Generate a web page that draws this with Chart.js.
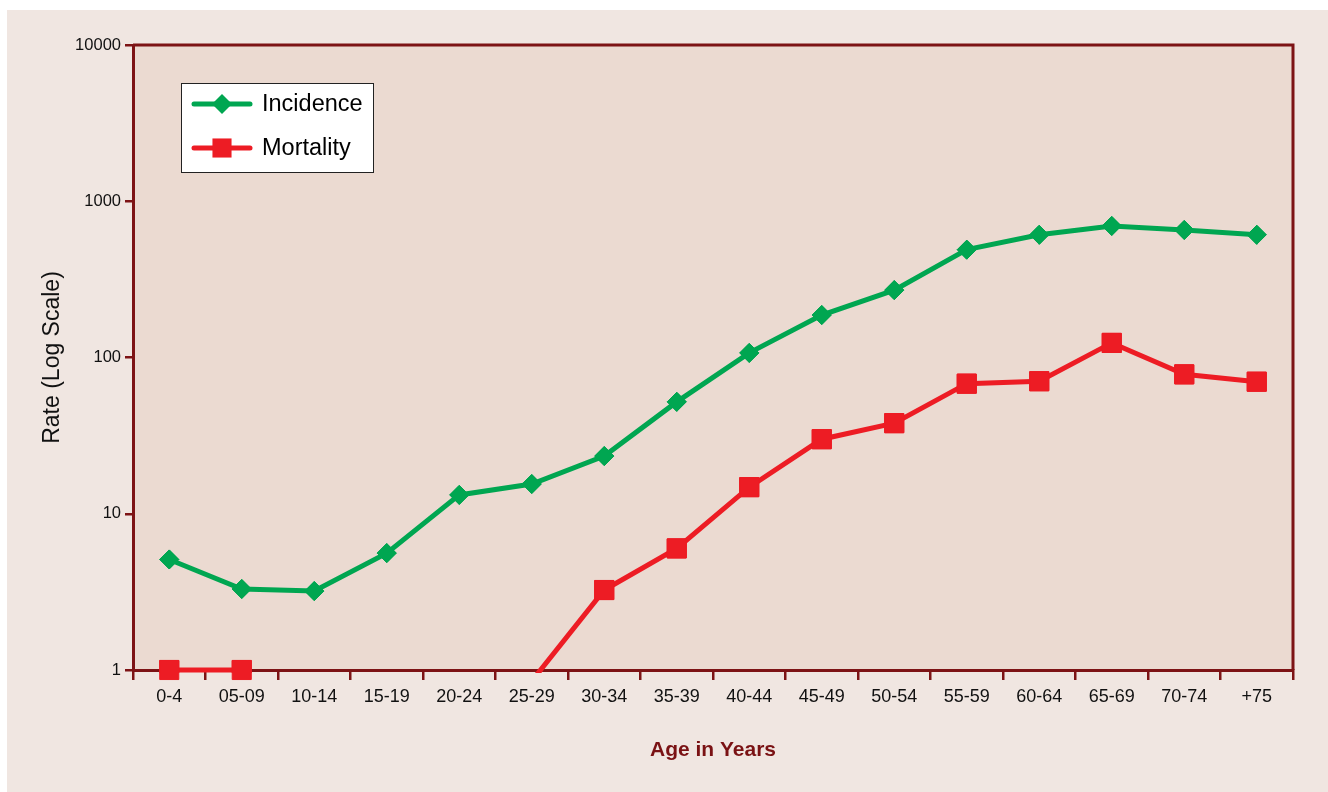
<!DOCTYPE html>
<html>
<head>
<meta charset="utf-8">
<script src="https://cdn.jsdelivr.net/npm/chart.js@4/dist/chart.umd.min.js"></script>
<style>
  html, body { margin: 0; padding: 0; background: #ffffff; }
  #panel {
    position: absolute;
    left: 7px;
    top: 10px;
    width: 1321px;
    height: 782px;
    background: #f0e6e1;
  }
</style>
</head>
<body>
<div id="panel"><canvas id="chart" width="1321" height="782"></canvas></div>
<script>
// Age groups and rates per 100,000
const ageGroups = ["0-4", "05-09", "10-14", "15-19", "20-24", "25-29", "30-34", "35-39",
  "40-44", "45-49", "50-54", "55-59", "60-64", "65-69", "70-74", "+75"];
const incidenceRates = [5.1, 3.3, 3.2, 5.6, 13.2, 15.5, 23.4, 52, 107, 187, 270, 490, 610, 695, 655, 610];
// null = not plotted; the 25-29 value sits below the axis minimum
const mortalityRates = [1, 1, null, null, null, 0.85, 3.25, 6.0, 14.8, 30, 38, 68, 70.5, 124, 78, 70];
const yTickValues = [1, 10, 100, 1000, 10000];

const AXIS_COLOR = "#7d1315";
const PLOT_BG = "#ebdad1";
const GREEN = "#00a651";
const RED = "#ed1c24";
const TICK_FONT = "'Liberation Sans', Arial, sans-serif";

// Plot background and top/right frame
const plotFrame = {
  id: "plotFrame",
  beforeDraw(chart) {
    const { ctx, chartArea: a } = chart;
    ctx.save();
    ctx.fillStyle = PLOT_BG;
    ctx.fillRect(a.left, a.top, a.right - a.left, a.bottom - a.top);
    ctx.restore();
  },
  beforeDatasetsDraw(chart) {
    const { ctx, chartArea: a } = chart;
    ctx.save();
    ctx.strokeStyle = AXIS_COLOR;
    ctx.lineWidth = 3;
    ctx.beginPath();
    ctx.moveTo(a.left, a.top);
    ctx.lineTo(a.right, a.top);
    ctx.lineTo(a.right, a.bottom);
    ctx.stroke();
    ctx.restore();
  },
  // markers sitting on the axis should not be cut in half
  afterDatasetsDraw(chart) {
    const big = { left: -1e4, top: -1e4, right: 1e4, bottom: 1e4 };
    chart.data.datasets.forEach((ds, i) => {
      const meta = chart.getDatasetMeta(i);
      meta.data.forEach((pt) => pt.draw(chart.ctx, big));
    });
  },
};

function drawMarker(ctx, style, x, y, r, color) {
  ctx.fillStyle = color;
  ctx.beginPath();
  if (style === "rectRot") {
    ctx.moveTo(x - r, y);
    ctx.lineTo(x, y - r);
    ctx.lineTo(x + r, y);
    ctx.lineTo(x, y + r);
  } else {
    const s = r * Math.SQRT1_2;
    ctx.rect(x - s, y - s, 2 * s, 2 * s);
  }
  ctx.closePath();
  ctx.fill();
}

// Legend box inside the plot, as in the original
const boxLegend = {
  id: "boxLegend",
  afterDraw(chart) {
    const { ctx } = chart;
    const bx = 174, by = 73, bw = 192, bh = 89;
    ctx.save();
    ctx.fillStyle = "#ffffff";
    ctx.fillRect(bx, by, bw, bh);
    ctx.strokeStyle = "#222222";
    ctx.lineWidth = 1;
    ctx.strokeRect(bx + 0.5, by + 0.5, bw, bh);
    const rows = [94, 138];
    chart.data.datasets.forEach((ds, i) => {
      const y = rows[i];
      ctx.strokeStyle = ds.borderColor;
      ctx.lineWidth = 5;
      ctx.lineCap = "round";
      ctx.beginPath();
      ctx.moveTo(187, y);
      ctx.lineTo(243, y);
      ctx.stroke();
      drawMarker(ctx, ds.pointStyle, 215, y, ds.legendRadius, ds.borderColor);
      ctx.fillStyle = "#000000";
      ctx.font = "23.5px 'Liberation Sans', Arial, sans-serif";
      ctx.textBaseline = "middle";
      ctx.textAlign = "left";
      ctx.fillText(ds.label, 255, y + 1);
    });
    ctx.restore();
  },
};

new Chart(document.getElementById("chart"), {
  type: "line",
  data: {
    labels: ageGroups,
    datasets: [
      {
        label: "Incidence",
        data: incidenceRates,
        borderColor: GREEN,
        backgroundColor: GREEN,
        borderWidth: 5,
        pointStyle: "rectRot",
        pointRadius: 9.5,
        pointBorderWidth: 1,
        legendRadius: 10,
        tension: 0,
      },
      {
        label: "Mortality",
        data: mortalityRates,
        borderColor: RED,
        backgroundColor: RED,
        borderWidth: 5,
        pointStyle: "rect",
        pointRadius: (c) => (c.raw !== null && c.raw < 1 ? 0 : 13.5),
        pointBorderWidth: 1,
        legendRadius: 13.5,
        tension: 0,
        spanGaps: false,
        clip: { left: 0, top: 0, right: 0, bottom: 3 },
      },
    ],
  },
  options: {
    responsive: false,
    animation: false,
    events: [],
    layout: { padding: { top: 35, right: 35, left: 0, bottom: 0 } },
    plugins: {
      legend: { display: false },
      tooltip: { enabled: false },
    },
    scales: {
      x: {
        type: "category",
        offset: true,
        grid: {
          offset: true,
          drawOnChartArea: false,
          drawTicks: true,
          tickLength: 10,
          color: AXIS_COLOR,
          lineWidth: 2.5,
        },
        border: { display: true, color: AXIS_COLOR, width: 3 },
        ticks: {
          autoSkip: false,
          maxRotation: 0,
          minRotation: 0,
          padding: 6,
          color: "#111111",
          font: { family: TICK_FONT, size: 18 },
        },
        title: {
          display: true,
          text: "Age in Years",
          color: "#7a1214",
          padding: { top: 0, bottom: 29 },
          font: { family: "'Liberation Sans', Arial, sans-serif", size: 21, weight: "bold" },
        },
        afterFit(scale) {
          scale.height = 122;
        },
      },
      y: {
        type: "logarithmic",
        min: 1,
        max: 10000,
        grid: {
          drawOnChartArea: false,
          drawTicks: true,
          tickLength: 8,
          color: AXIS_COLOR,
          lineWidth: 2.5,
        },
        border: { display: true, color: AXIS_COLOR, width: 3 },
        afterBuildTicks(scale) {
          scale.ticks = yTickValues.map((v) => ({ value: v, major: true }));
        },
        ticks: {
          padding: 4,
          color: "#111111",
          font: { family: TICK_FONT, size: 16.5 },
          callback: (v) => String(v),
        },
        title: {
          display: true,
          text: "Rate (Log Scale)",
          color: "#111111",
          padding: { top: 32, bottom: 0 },
          font: { family: "'Liberation Sans', Arial, sans-serif", size: 23 },
        },
        afterFit(scale) {
          scale.width = 126;
        },
      },
    },
  },
  plugins: [plotFrame, boxLegend],
});
</script>
</body>
</html>
